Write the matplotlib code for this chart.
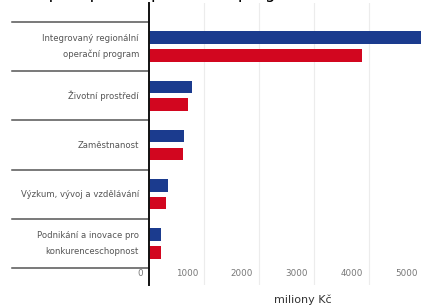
import matplotlib
matplotlib.use("Agg")
from matplotlib import pyplot as plt
from matplotlib import transforms

plt.rcParams['font.family'] = ['DejaVu Sans']

categories = ['Integrovaný regionální\noperační program',
              'Životní prostředí',
              'Zaměstnanost',
              'Výzkum, vývoj a vzdělávání',
              'Podnikání a inovace pro\nkonkurenceschopnost']
blue_vals = [5300, 780, 640, 350, 210]
red_vals = [3880, 710, 620, 310, 210]
x_ticks = [0, 1000, 2000, 3000, 4000, 5000]
x_label = 'miliony Kč'
title = 'Čerpání podle operačních programů (mil. Kč)'

BLUE = '#1b3b8e'
RED = '#d2061f'

W, H = 421, 305
fig = plt.figure(figsize=(W / 100, H / 100), dpi=100)

# osa zacina na x=149 px, konci za pravym okrajem obrazku
left_px, right_px = 149, 458
top_px, bottom_px = 3, 285
ax = fig.add_axes([left_px / W, (H - bottom_px) / H,
                   (right_px - left_px) / W, (bottom_px - top_px) / H])

step = 49.2  # px na kategorii
n = len(categories)
pos = list(range(n - 1, -1, -1))
y_low = -0.5 - 17 / step
ax.set_ylim(y_low, y_low + (bottom_px - top_px) / step)
ax.set_xlim(0, (right_px - left_px) / 55 * 1000)

off = 0.18
h = 0.255
ax.barh([p + off for p in pos], blue_vals, height=h, color=BLUE, zorder=3)
ax.barh([p - off for p in pos], red_vals, height=h, color=RED, zorder=3)

for t in x_ticks[1:]:
    ax.axvline(t, color='#ececec', lw=0.8, zorder=1)

for s in ['top', 'right', 'bottom']:
    ax.spines[s].set_visible(False)
ax.spines['left'].set_color('#111111')
ax.spines['left'].set_linewidth(1.4)
ax.spines['left'].set_zorder(4)
ax.set_xticks([])
ax.set_yticks([])

# oddelovace kategorii vlevo od osy
sep_tr = transforms.blended_transform_factory(fig.transFigure, ax.transData)
for k in range(n + 1):
    ax.plot([12 / W, left_px / W], [k - 0.5, k - 0.5], transform=sep_tr,
            color='#555555', lw=1.1, clip_on=False)

lab_tr = transforms.offset_copy(ax.transData, fig=fig, x=-10, y=0, units='dots')
for p, name in zip(pos, categories):
    ax.text(0, p, name, transform=lab_tr, ha='right', va='center',
            fontsize=6.1, color='#555555', linespacing=1.95, clip_on=False)

tick_tr = transforms.offset_copy(
    transforms.blended_transform_factory(ax.transData, fig.transFigure),
    fig=fig, x=-6, y=0, units='dots')
for t in x_ticks:
    ax.text(t, (H - 273) / H, str(t), transform=tick_tr, ha='right', va='center',
            fontsize=6.3, color='#777777', clip_on=False)

fig.text(303 / W, (H - 303) / H, x_label, ha='center', va='baseline',
         fontsize=8, color='#333333')
# nazev je v predloze oriznuty, vidi se jen spodni okraj
fig.text(20 / W, 1 + 2 / H, title, ha='left', va='baseline',
         fontsize=12, color='black')

fig.savefig('out.png', dpi=100)
